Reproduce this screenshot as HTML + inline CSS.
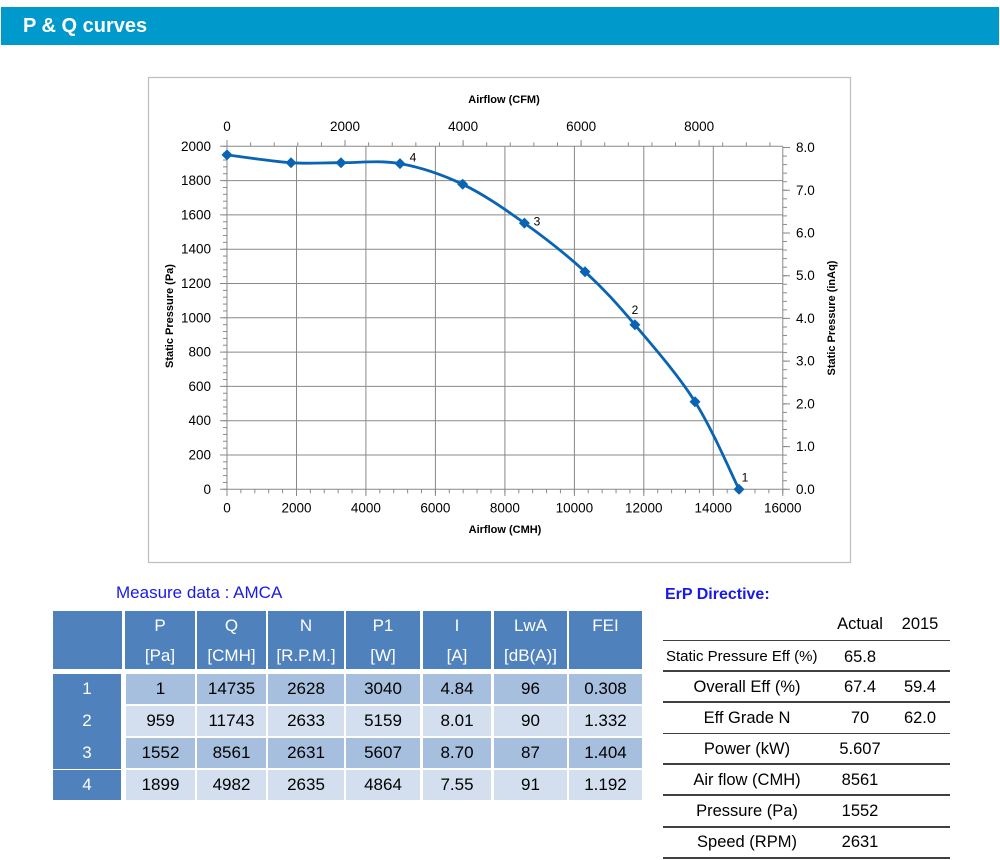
<!DOCTYPE html>
<html><head><meta charset="utf-8"><style>
html,body{margin:0;padding:0;background:#fff;}
body{width:1000px;height:860px;position:relative;overflow:hidden;font-family:"Liberation Sans",Arial,sans-serif;}
.bar{position:absolute;left:1px;top:7px;width:998px;height:38px;background:#0099cc;}
.bar span{position:absolute;left:22px;top:7px;color:#fff;font-weight:bold;font-size:20px;line-height:24px;}
.c{position:absolute;display:flex;align-items:center;justify-content:center;font-size:17px;color:#000;}
.h{background:#4f81bd;color:#fff;flex-direction:column;justify-content:flex-start;}
.h div{height:30px;line-height:30px;}
.d{background:#4f81bd;color:#fff;}
.o{background:#a7bfde;}
.e{background:#d3dfee;}
.t{position:absolute;font-size:16.5px;color:#000;line-height:18px;white-space:nowrap;}
.ln{position:absolute;left:663px;width:287px;height:1.5px;background:#404040;}
</style></head><body>
<div class="bar"><span>P &amp; Q curves</span></div>

<svg style="position:absolute;left:0;top:0" width="1000" height="570" xmlns="http://www.w3.org/2000/svg" font-family="Liberation Sans, Arial, sans-serif">
<defs>
<pattern id="lt" patternUnits="userSpaceOnUse" x="0" y="485.87" width="10" height="6.86"><rect x="0" y="2.93" width="10" height="1" fill="#898989"/></pattern>
<pattern id="rt" patternUnits="userSpaceOnUse" x="0" y="485.028" width="10" height="8.544"><rect x="0" y="3.772" width="10" height="1" fill="#898989"/></pattern>
<pattern id="bt" patternUnits="userSpaceOnUse" x="220.053" y="0" width="13.894" height="10"><rect x="6.447" y="0" width="1" height="10" fill="#898989"/></pattern>
<pattern id="tt" patternUnits="userSpaceOnUse" x="215.2" y="0" width="23.605" height="10"><rect x="11.3" y="0" width="1" height="10" fill="#898989"/></pattern>
</defs>
<rect x="148.5" y="77.5" width="702" height="485" fill="#fff" stroke="#bdbdbd" stroke-width="1.2"/>
<g stroke="#898989" stroke-width="1" fill="none">
<path d="M296.5 146.3V489.3M365.9 146.3V489.3M435.4 146.3V489.3M504.9 146.3V489.3M574.4 146.3V489.3M643.8 146.3V489.3M713.3 146.3V489.3M782.8 146.3V489.3"/>
<path d="M227 455H782.8M227 420.7H782.8M227 386.4H782.8M227 352.1H782.8M227 317.8H782.8M227 283.5H782.8M227 249.2H782.8M227 214.9H782.8M227 180.6H782.8M227 146.3H782.8M227 489.3H782.8M227 146.3V489.3"/>
<path d="M220 489.3H227M220 455H227M220 420.7H227M220 386.4H227M220 352.1H227M220 317.8H227M220 283.5H227M220 249.2H227M220 214.9H227M220 180.6H227M220 146.3H227"/>
<path d="M227 489.3V496M296.5 489.3V496M365.9 489.3V496M435.4 489.3V496M504.9 489.3V496M574.4 489.3V496M643.8 489.3V496M713.3 489.3V496M782.8 489.3V496"/>
<path d="M782.8 489.3H790M782.8 446.6H790M782.8 403.9H790M782.8 361.1H790M782.8 318.4H790M782.8 275.7H790M782.8 233H790M782.8 190.3H790M782.8 147.5H790"/>
<path d="M227 146.3V140M345 146.3V140M463.1 146.3V140M581.1 146.3V140M699.1 146.3V140"/>
</g>
<rect x="223" y="145.5" width="4" height="344.5" fill="url(#lt)"/>
<rect x="783" y="146" width="4" height="344" fill="url(#rt)"/>
<rect x="226" y="489.3" width="558" height="4" fill="url(#bt)"/>
<rect x="226" y="142.3" width="557" height="4" fill="url(#tt)"/>

<g font-size="13.5" fill="#000" text-anchor="end" dominant-baseline="central">
<text x="211" y="489.3">0</text><text x="211" y="455">200</text><text x="211" y="420.7">400</text><text x="211" y="386.4">600</text><text x="211" y="352.1">800</text><text x="211" y="317.8">1000</text><text x="211" y="283.5">1200</text><text x="211" y="249.2">1400</text><text x="211" y="214.9">1600</text><text x="211" y="180.6">1800</text><text x="211" y="146.3">2000</text>
</g>
<g font-size="13.5" fill="#000" text-anchor="start" dominant-baseline="central">
<text x="796" y="489.3">0.0</text><text x="796" y="446.6">1.0</text><text x="796" y="403.9">2.0</text><text x="796" y="361.1">3.0</text><text x="796" y="318.4">4.0</text><text x="796" y="275.7">5.0</text><text x="796" y="233">6.0</text><text x="796" y="190.3">7.0</text><text x="796" y="147.5">8.0</text>
</g>
<g font-size="13.5" fill="#000" text-anchor="middle" dominant-baseline="central">
<text x="227" y="508">0</text><text x="296.5" y="508">2000</text><text x="365.9" y="508">4000</text><text x="435.4" y="508">6000</text><text x="504.9" y="508">8000</text><text x="574.4" y="508">10000</text><text x="643.8" y="508">12000</text><text x="713.3" y="508">14000</text><text x="782.8" y="508">16000</text>
<text x="227" y="126.5">0</text><text x="345" y="126.5">2000</text><text x="463.1" y="126.5">4000</text><text x="581.1" y="126.5">6000</text><text x="699.1" y="126.5">8000</text>
</g>
<g font-size="11" font-weight="bold" fill="#000" text-anchor="middle" dominant-baseline="central">
<text x="504" y="100">Airflow (CFM)</text>
<text x="505" y="530">Airflow (CMH)</text>
<text transform="translate(170,316) rotate(-90)">Static Pressure (Pa)</text>
<text transform="translate(832,318) rotate(-90)">Static Pressure (inAq)</text>
</g>

<path fill="none" stroke="#0a64b4" stroke-width="2.8" stroke-linejoin="round" d="M227 154.9C237.7 156.2 272 161.4 291 162.7C310 164 322.8 162.55 341 162.7C359.2 162.85 379.7 160 400 163.6C420.3 167.2 442 174.4 462.7 184.3C483.4 194.2 504 208.5 524.4 223.1C544.8 237.7 566.6 254.75 585 271.7C603.4 288.65 616.6 303.1 634.9 324.8C653.2 346.5 677.7 374.3 695 401.7C712.3 429.1 731.7 474.7 739 489.3"/>
<g fill="#0a64b4">
<path d="M227 149.4l5.5 5.5l-5.5 5.5l-5.5-5.5z"/>
<path d="M291 157.2l5.5 5.5l-5.5 5.5l-5.5-5.5z"/>
<path d="M341 157.2l5.5 5.5l-5.5 5.5l-5.5-5.5z"/>
<path d="M400 158.1l5.5 5.5l-5.5 5.5l-5.5-5.5z"/>
<path d="M462.7 178.8l5.5 5.5l-5.5 5.5l-5.5-5.5z"/>
<path d="M524.4 217.6l5.5 5.5l-5.5 5.5l-5.5-5.5z"/>
<path d="M585 266.2l5.5 5.5l-5.5 5.5l-5.5-5.5z"/>
<path d="M634.9 319.3l5.5 5.5l-5.5 5.5l-5.5-5.5z"/>
<path d="M695 396.2l5.5 5.5l-5.5 5.5l-5.5-5.5z"/>
<path d="M739 483.8l5.5 5.5l-5.5 5.5l-5.5-5.5z"/>
</g>
<g font-size="12" fill="#000" text-anchor="middle" dominant-baseline="central">
<text x="413" y="157.3">4</text><text x="537" y="221.7">3</text><text x="635" y="310">2</text><text x="745" y="477.7">1</text>
</g>
</svg>

<div style="position:absolute;left:116px;top:583px;font-size:17px;line-height:20px;color:#1a1ae6;white-space:nowrap;">Measure data : AMCA</div>

<div class="c h" style="left:53px;top:611px;width:69px;height:58px;"></div>
<div class="c h" style="left:125px;top:611px;width:70px;height:58px;"><div>P</div><div>[Pa]</div></div>
<div class="c h" style="left:197px;top:611px;width:69px;height:58px;"><div>Q</div><div>[CMH]</div></div>
<div class="c h" style="left:268px;top:611px;width:76px;height:58px;"><div>N</div><div>[R.P.M.]</div></div>
<div class="c h" style="left:346px;top:611px;width:74px;height:58px;"><div>P1</div><div>[W]</div></div>
<div class="c h" style="left:423px;top:611px;width:68px;height:58px;"><div>I</div><div>[A]</div></div>
<div class="c h" style="left:494px;top:611px;width:73px;height:58px;"><div>LwA</div><div>[dB(A)]</div></div>
<div class="c h" style="left:569px;top:611px;width:73px;height:58px;"><div>FEI</div><div></div></div>

<div class="c d" style="left:53px;top:674px;width:68px;height:95px;"></div>
<div class="c d" style="left:53px;top:674px;width:68px;height:30px;">1</div>
<div class="c d" style="left:53px;top:706px;width:68px;height:30px;">2</div>
<div class="c d" style="left:53px;top:738px;width:68px;height:30px;">3</div>
<div class="c d" style="left:53px;top:770px;width:68px;height:30px;">4</div>

<div class="c o" style="left:126px;top:674px;width:69px;height:30px;">1</div>
<div class="c o" style="left:197px;top:674px;width:69px;height:30px;">14735</div>
<div class="c o" style="left:268px;top:674px;width:76px;height:30px;">2628</div>
<div class="c o" style="left:346px;top:674px;width:74px;height:30px;">3040</div>
<div class="c o" style="left:423px;top:674px;width:68px;height:30px;">4.84</div>
<div class="c o" style="left:494px;top:674px;width:73px;height:30px;">96</div>
<div class="c o" style="left:569px;top:674px;width:73px;height:30px;">0.308</div>

<div class="c e" style="left:126px;top:706px;width:69px;height:30px;">959</div>
<div class="c e" style="left:197px;top:706px;width:69px;height:30px;">11743</div>
<div class="c e" style="left:268px;top:706px;width:76px;height:30px;">2633</div>
<div class="c e" style="left:346px;top:706px;width:74px;height:30px;">5159</div>
<div class="c e" style="left:423px;top:706px;width:68px;height:30px;">8.01</div>
<div class="c e" style="left:494px;top:706px;width:73px;height:30px;">90</div>
<div class="c e" style="left:569px;top:706px;width:73px;height:30px;">1.332</div>

<div class="c o" style="left:126px;top:738px;width:69px;height:30px;">1552</div>
<div class="c o" style="left:197px;top:738px;width:69px;height:30px;">8561</div>
<div class="c o" style="left:268px;top:738px;width:76px;height:30px;">2631</div>
<div class="c o" style="left:346px;top:738px;width:74px;height:30px;">5607</div>
<div class="c o" style="left:423px;top:738px;width:68px;height:30px;">8.70</div>
<div class="c o" style="left:494px;top:738px;width:73px;height:30px;">87</div>
<div class="c o" style="left:569px;top:738px;width:73px;height:30px;">1.404</div>

<div class="c e" style="left:126px;top:770px;width:69px;height:30px;">1899</div>
<div class="c e" style="left:197px;top:770px;width:69px;height:30px;">4982</div>
<div class="c e" style="left:268px;top:770px;width:76px;height:30px;">2635</div>
<div class="c e" style="left:346px;top:770px;width:74px;height:30px;">4864</div>
<div class="c e" style="left:423px;top:770px;width:68px;height:30px;">7.55</div>
<div class="c e" style="left:494px;top:770px;width:73px;height:30px;">91</div>
<div class="c e" style="left:569px;top:770px;width:73px;height:30px;">1.192</div>

<div style="position:absolute;left:665px;top:585px;font-size:16px;line-height:20px;font-weight:bold;color:#1a1ae6;white-space:nowrap;">ErP Directive:</div>
<div class="t" style="left:834px;top:615px;width:52px;text-align:center;">Actual</div>
<div class="t" style="left:894px;top:615px;width:52px;text-align:center;">2015</div>

<div class="ln" style="top:639.5px;"></div>
<div class="ln" style="top:670px;"></div>
<div class="ln" style="top:701.3px;"></div>
<div class="ln" style="top:732.6px;"></div>
<div class="ln" style="top:763.3px;"></div>
<div class="ln" style="top:794.3px;"></div>
<div class="ln" style="top:826px;"></div>
<div class="ln" style="top:856.5px;height:2px;"></div>

<div class="t" style="left:666px;top:647.7px;font-size:15px;">Static Pressure Eff (%)</div>
<div class="t" style="left:667px;top:678.3px;width:160px;text-align:center;">Overall Eff (%)</div>
<div class="t" style="left:667px;top:708.7px;width:160px;text-align:center;">Eff Grade N</div>
<div class="t" style="left:667px;top:740.3px;width:160px;text-align:center;">Power (kW)</div>
<div class="t" style="left:667px;top:771px;width:160px;text-align:center;">Air flow (CMH)</div>
<div class="t" style="left:667px;top:802px;width:160px;text-align:center;">Pressure (Pa)</div>
<div class="t" style="left:667px;top:833.3px;width:160px;text-align:center;">Speed (RPM)</div>

<div class="t" style="left:830px;top:647.7px;width:60px;text-align:center;">65.8</div>
<div class="t" style="left:830px;top:678.3px;width:60px;text-align:center;">67.4</div>
<div class="t" style="left:830px;top:708.7px;width:60px;text-align:center;">70</div>
<div class="t" style="left:830px;top:740.3px;width:60px;text-align:center;">5.607</div>
<div class="t" style="left:830px;top:771px;width:60px;text-align:center;">8561</div>
<div class="t" style="left:830px;top:802px;width:60px;text-align:center;">1552</div>
<div class="t" style="left:830px;top:833.3px;width:60px;text-align:center;">2631</div>

<div class="t" style="left:890px;top:678.3px;width:60px;text-align:center;">59.4</div>
<div class="t" style="left:890px;top:708.7px;width:60px;text-align:center;">62.0</div>
</body></html>
